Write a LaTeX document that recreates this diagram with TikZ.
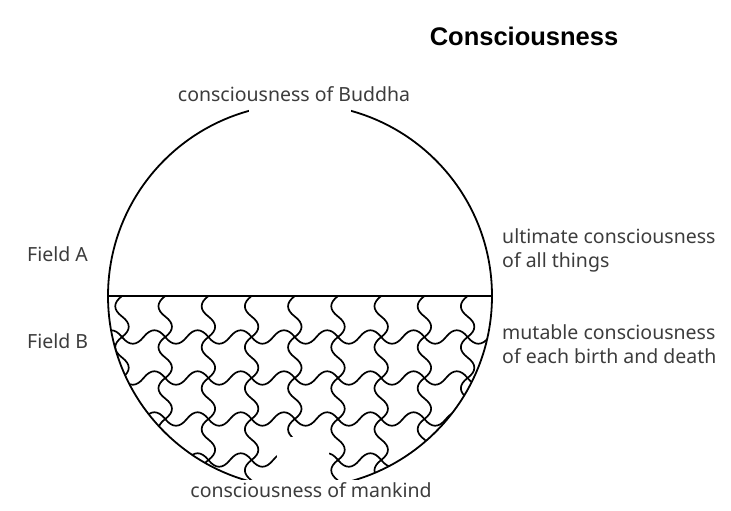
\documentclass[tikz,border=0pt]{standalone}
\usepackage{fontspec}
\setmainfont{Noto Sans}
\newfontfamily\titlefont{Liberation Sans}
\usepackage{xcolor}
\usetikzlibrary{positioning,calc}
\definecolor{labelgray}{HTML}{3C3C3C}

\begin{document}
\begin{tikzpicture}[
    x=1pt,y=-1pt,
    lbl/.style  = {font=\fontsize{19.5}{24}\selectfont,text=labelgray,
                   inner sep=0pt,align=left},
    ttl/.style  = {font=\titlefont\fontsize{25.5}{30}\selectfont\bfseries,inner sep=0pt},
    rim/.style  = {line width=1.8pt},
    tileln/.style = {line width=1.7pt,line join=round,line cap=round},
    gap/.style  = {rectangle,fill=white,inner sep=0pt},
  ]
  \useasboundingbox (0,0) rectangle (731,511);

  \node[circle,rim,draw,minimum size=384pt,inner sep=0pt] (disc) at (300,296) {};

  % field B tiling
  \begin{scope}
    \clip (disc.west) rectangle (495,500);
    \clip (disc.center) circle[radius=192pt];
    \foreach \i in {-1,...,9} {
      \pgfmathsetmacro{\xa}{122+43.2*\i}
      \foreach \j in {0,...,4} {
        \pgfmathsetmacro{\ya}{296+41*\j}
        \draw[tileln] (\xa,\ya)
          .. controls ({\xa-9},{\ya+6.8}) and ({\xa-9},{\ya+13.7}) .. (\xa,{\ya+20.5})
          .. controls ({\xa+9},{\ya+27.3}) and ({\xa+9},{\ya+34.2}) .. (\xa,{\ya+41});
      }
      \foreach \j in {1,...,5} {
        \pgfmathsetmacro{\ya}{296+41*\j}
        \draw[tileln] (\xa,\ya)
          .. controls ({\xa+7.2},{\ya+9}) and ({\xa+14.4},{\ya+9}) .. ({\xa+21.6},\ya)
          .. controls ({\xa+28.8},{\ya-9}) and ({\xa+36},{\ya-9}) .. ({\xa+43.2},\ya);
      }
    }
  \end{scope}

  \draw[rim] (disc.west) -- (disc.east);

  % white patches where the rim is broken
  \node[gap,minimum width=102pt,minimum height=30pt] (topgap) at (300,99) {};
  \node[gap,minimum width=52pt,minimum height=48pt] (botgap) at (303,461) {};

  \node[ttl,anchor=base] (title) at (524,46) {Consciousness};
  \node[lbl,anchor=base,fill=white,inner sep=2pt] (buddha) at (294,101) {consciousness of Buddha};
  \node[lbl,anchor=base west] (fielda) at (27,261) {Field A};
  \node[lbl,anchor=base west] (fieldb) at (27,348) {Field B};
  \node[lbl,anchor=base west] (ultimate) at (502,267)
       {ultimate consciousness\\of all things};
  \node[lbl,anchor=base west] (mutable) at (502,363)
       {mutable consciousness\\of each birth and death};
  \node[lbl,anchor=base,fill=white,inner sep=2pt] (mankind) at (311,497) {consciousness of mankind};

\end{tikzpicture}
\end{document}
